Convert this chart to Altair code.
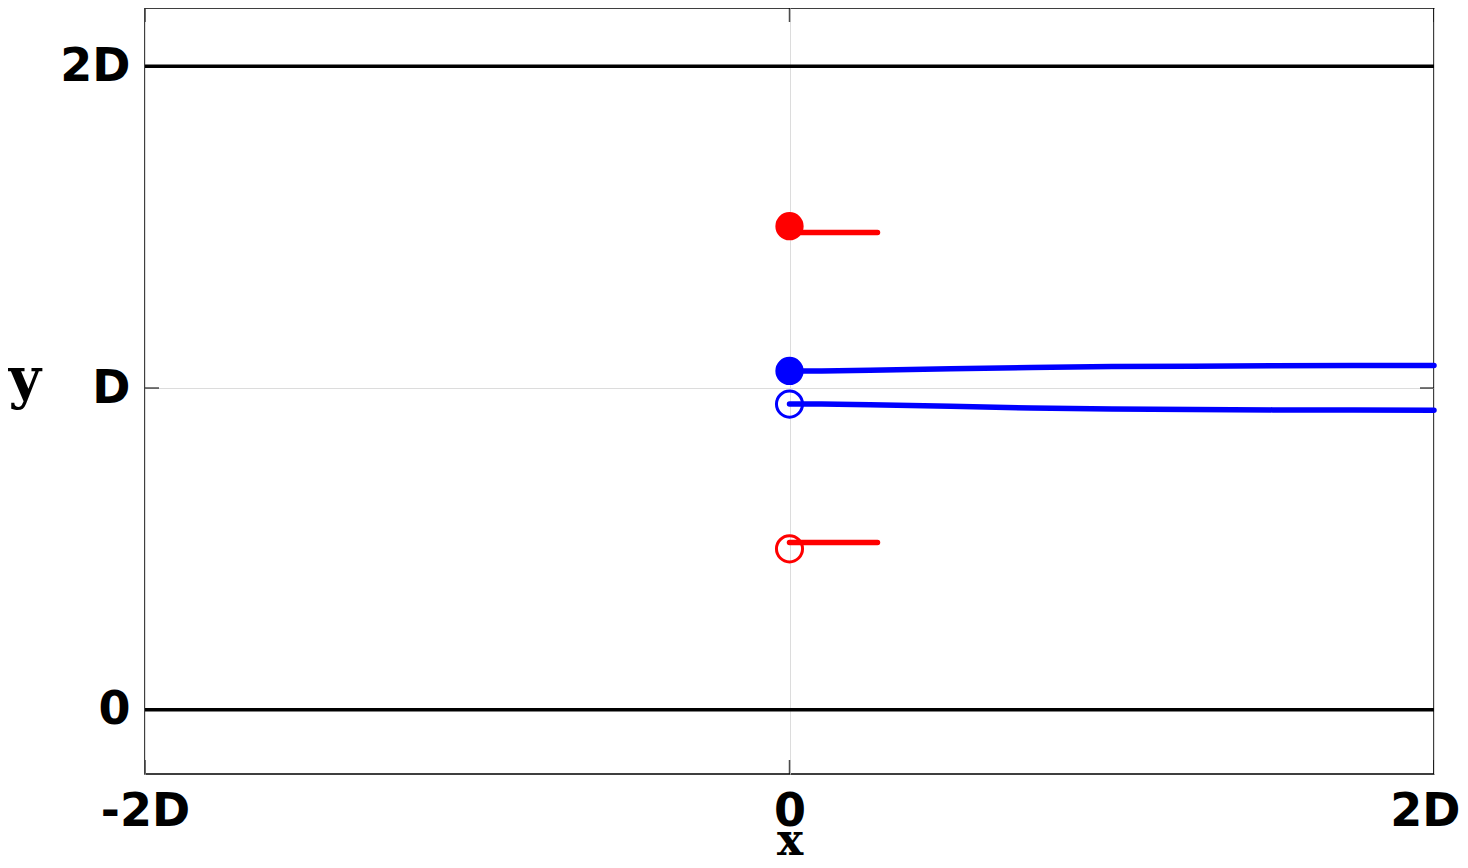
import altair as alt
import pandas as pd

# ---- data (in units of D) ----
x_domain = [-2.0, 2.0]
y_domain = [-0.2, 2.1814]

x_tick_values = [-2, 0, 2]
x_tick_labels = ["-2D", "0", "2D"]
y_tick_values = [0, 1, 2]
y_tick_labels = ["0", "D", "2D"]

wall_y = [0.0, 2.0]

curve_x = [0.0, 0.1, 0.25, 0.5, 0.75, 1.0, 1.25, 1.5, 1.75, 2.0]
blue_upper = [1.053, 1.053, 1.055, 1.060, 1.064, 1.067, 1.068, 1.069, 1.070, 1.070]
blue_lower = [0.950, 0.950, 0.948, 0.943, 0.938, 0.935, 0.933, 0.932, 0.932, 0.931]

red_x = [0.0, 0.273]
red_upper = [1.4835, 1.4835]
red_lower = [0.5196, 0.5196]

filled_x = [0.0, 0.0]
filled_y = [1.503, 1.053]
filled_color = ["red", "blue"]
open_x = [0.0, 0.0]
open_y = [0.950, 0.500]
open_color = ["blue", "red"]

# ---- tables ----
lines = pd.concat([
    pd.DataFrame({"x": curve_x, "y": blue_upper, "id": "bu", "c": "blue"}),
    pd.DataFrame({"x": curve_x, "y": blue_lower, "id": "bl", "c": "blue"}),
    pd.DataFrame({"x": red_x, "y": red_upper, "id": "ru", "c": "red"}),
    pd.DataFrame({"x": red_x, "y": red_lower, "id": "rl", "c": "red"}),
])
filled = pd.DataFrame({"x": filled_x, "y": filled_y, "c": filled_color})
opened = pd.DataFrame({"x": open_x, "y": open_y, "c": open_color})
walls = pd.DataFrame({"y": wall_y})

xt = pd.DataFrame({"x": x_tick_values * 2,
                   "y": [y_domain[0]] * 3 + [y_domain[1]] * 3})
yt = pd.DataFrame({"y": y_tick_values * 2,
                   "x": [x_domain[0]] * 3 + [x_domain[1]] * 3})


def label_expr(values, labels):
    parts = " : ".join(
        f"datum.value == {v} ? '{l}'" for v, l in zip(values, labels))
    return parts + " : ''"


xscale = alt.Scale(domain=x_domain, nice=False, zero=False)
yscale = alt.Scale(domain=y_domain, nice=False, zero=False)

x_axis = alt.Axis(
    values=x_tick_values, labelExpr=label_expr(x_tick_values, x_tick_labels),
    title="x", grid=True, gridColor="#dcdcdc", gridWidth=1,
    ticks=False, domain=False,
    labelFont="DejaVu Sans", labelFontWeight="bold", labelFontSize=46,
    labelColor="black", labelPadding=15, labelFlush=False,
    labelAlign={"condition": {"test": f"datum.value == {x_domain[1]}", "value": "right"},
                "value": "center"},
    labelOffset={"condition": {"test": f"datum.value == {x_domain[1]}", "value": 26},
                 "value": 0},
    titleFont="DejaVu Serif", titleFontWeight="bold", titleFontSize=44,
    titleColor="black", titleBaseline="alphabetic", titleY=80,
)
y_axis = alt.Axis(
    values=y_tick_values, labelExpr=label_expr(y_tick_values, y_tick_labels),
    title="y", grid=True, gridColor="#dcdcdc", gridWidth=1,
    ticks=False, domain=False,
    labelFont="DejaVu Sans", labelFontWeight="bold", labelFontSize=46,
    labelColor="black", labelPadding=15, labelFlush=False,
    titleFont="DejaVu Serif", titleFontWeight="bold", titleFontSize=56,
    titleColor="black", titleAngle=0, titleAlign="left",
    titleBaseline="alphabetic", titleX=-137, titleY=389,
)

color_scale = alt.Scale(domain=["red", "blue"], range=["#ff0000", "#0000ff"])

base_walls = alt.Chart(walls).mark_rule(color="black", strokeWidth=3.5).encode(
    y=alt.Y("y:Q", scale=yscale, axis=y_axis),
)

xticks = alt.Chart(xt).mark_tick(
    orient="vertical", size=28, thickness=1.5, color="black", clip=True
).encode(
    x=alt.X("x:Q", scale=xscale, axis=x_axis),
    y=alt.Y("y:Q", scale=yscale),
)
yticks = alt.Chart(yt).mark_tick(
    orient="horizontal", size=28, thickness=1.5, color="black", clip=True
).encode(
    x=alt.X("x:Q", scale=xscale),
    y=alt.Y("y:Q", scale=yscale),
)

pts_filled = alt.Chart(filled).mark_point(
    shape="circle", filled=True, size=800, opacity=1
).encode(
    x=alt.X("x:Q", scale=xscale),
    y=alt.Y("y:Q", scale=yscale),
    color=alt.Color("c:N", scale=color_scale, legend=None),
)
pts_open = alt.Chart(opened).mark_point(
    shape="circle", filled=False, size=680, strokeWidth=3, opacity=1
).encode(
    x=alt.X("x:Q", scale=xscale),
    y=alt.Y("y:Q", scale=yscale),
    color=alt.Color("c:N", scale=color_scale, legend=None),
)

line_layer = alt.Chart(lines).mark_line(strokeWidth=5.5, strokeCap="round").encode(
    x=alt.X("x:Q", scale=xscale),
    y=alt.Y("y:Q", scale=yscale),
    detail="id:N",
    color=alt.Color("c:N", scale=color_scale, legend=None),
)

chart = alt.layer(
    xticks, yticks, base_walls, pts_filled, pts_open, line_layer
).properties(
    width=1289, height=766,
    autosize=alt.AutoSizeParams(type="none"),
    padding={"left": 137, "top": 0, "right": 26, "bottom": 86},
    background="white",
).configure_view(
    stroke="black", strokeWidth=1.5,
)

chart.save("out.html", embed_options={"renderer": "svg", "actions": False})
